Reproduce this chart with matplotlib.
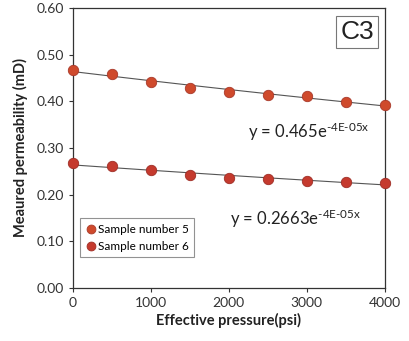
import matplotlib.pyplot as plt
import numpy as np

# Effective pressure (psi) and measured permeability (mD)
pressure = [0, 500, 1000, 1500, 2000, 2500, 3000, 3500, 4000]
sample5 = [0.468, 0.459, 0.441, 0.429, 0.420, 0.413, 0.411, 0.399, 0.393]
sample6 = [0.268, 0.262, 0.253, 0.242, 0.235, 0.233, 0.230, 0.228, 0.226]
eq5 = 'y = 0.465e$^{\\text{-}4E\\text{-}05x}$'
eq6 = 'y = 0.2663e$^{\\text{-}4E\\text{-}05x}$'

plt.rcParams['font.family'] = ['Lato', 'DejaVu Sans']
plt.rcParams['mathtext.fontset'] = 'custom'
plt.rcParams['mathtext.rm'] = 'Lato'
plt.rcParams['mathtext.it'] = 'Lato'

fig = plt.figure(figsize=(4.09, 3.41), dpi=100)
ax = fig.add_axes([0.178, 0.155, 0.763, 0.822])

x = np.array(pressure, dtype=float)
xs = np.linspace(0, 4000, 50)
for vals in (sample5, sample6):
    # exponential trendline fitted to the points
    b, a = np.polyfit(x, np.log(vals), 1)
    ax.plot(xs, np.exp(a) * np.exp(b * xs), color='#555555', lw=0.8, zorder=2)

ax.plot(pressure, sample5, 'o', color='#CF4A2C', mec='#A8392A', mew=0.6,
        ms=7.5, label='Sample number 5', zorder=3, clip_on=False)
ax.plot(pressure, sample6, 'o', color='#C53A2E', mec='#9E2E26', mew=0.6,
        ms=7.5, label='Sample number 6', zorder=3, clip_on=False)

ax.set_xlim(0, 4000)
ax.set_ylim(0, 0.6)
ax.set_xticks([0, 1000, 2000, 3000, 4000])
ax.set_yticks([0, 0.1, 0.2, 0.3, 0.4, 0.5, 0.6])
ax.set_yticklabels(['%.2f' % v for v in ax.get_yticks()])
ax.tick_params(labelsize=10, colors='#333333', length=3, width=0.8)
for s in ax.spines.values():
    s.set_color('#333333')
    s.set_linewidth(0.9)

ax.set_xlabel('Effective pressure(psi)', fontsize=10.5, fontweight='bold', color='#222222', labelpad=3)
ax.set_ylabel('Meaured permeability (mD)', fontsize=10.5, fontweight='bold', color='#222222', labelpad=6)

ax.text(2244, 0.322, eq5, fontsize=12, color='#222222')
ax.text(2013, 0.135, eq6, fontsize=12, color='#222222')

ax.text(0.965, 0.955, 'C3', transform=ax.transAxes, ha='right', va='top',
        fontsize=19, family='Liberation Sans', color='#222222',
        bbox=dict(boxstyle='square,pad=0.15', fc='white', ec='#777777', lw=0.8))

leg = ax.legend(loc='lower left', bbox_to_anchor=(0.004, 0.09), fontsize=8.5,
                frameon=True, fancybox=False, edgecolor='#777777',
                handletextpad=0.1, handlelength=1.0, borderpad=0.45,
                labelspacing=0.5, markerscale=0.85)
leg.get_frame().set_linewidth(0.8)

fig.savefig('out.png', dpi=100)
